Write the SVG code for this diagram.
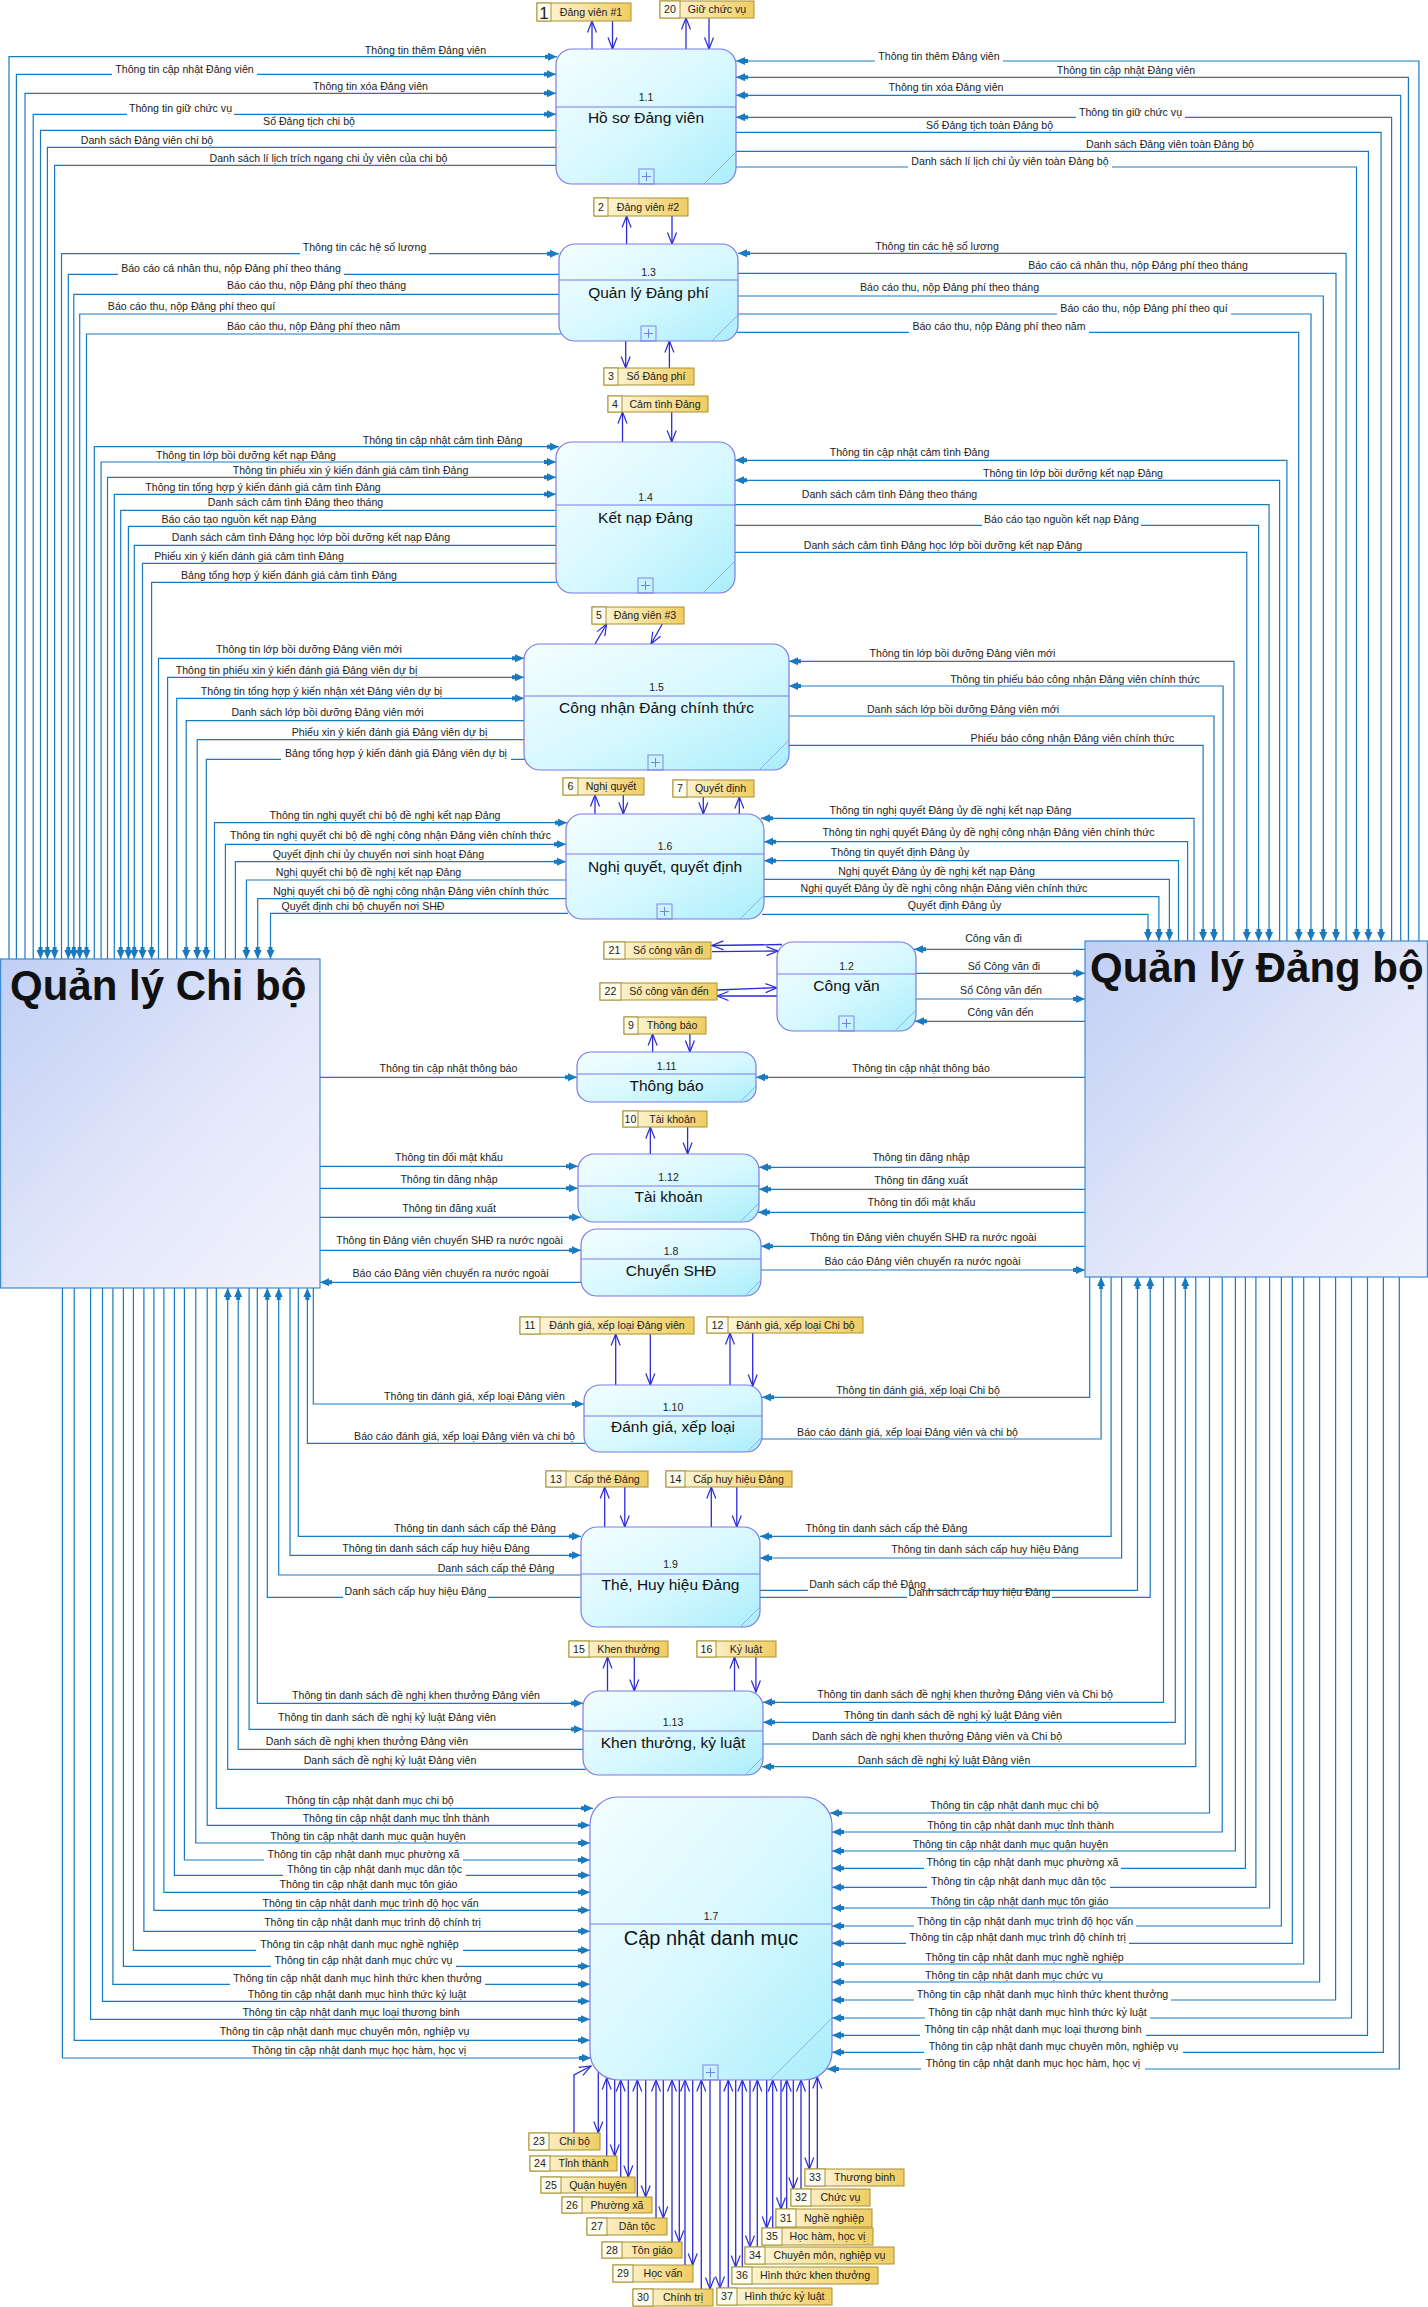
<svg xmlns="http://www.w3.org/2000/svg" width="1428" height="2307" viewBox="0 0 1428 2307">
<defs>
<linearGradient id="gp" x1="0" y1="0" x2="1" y2="1"><stop offset="0" stop-color="#f4feff"/><stop offset="0.55" stop-color="#d6f8ff"/><stop offset="1" stop-color="#aaeefb"/></linearGradient>
<linearGradient id="ge" x1="0" y1="0" x2="1" y2="1"><stop offset="0" stop-color="#c0cff4"/><stop offset="0.55" stop-color="#e2e7fa"/><stop offset="1" stop-color="#f3f3fd"/></linearGradient>
<linearGradient id="gs" x1="0" y1="0" x2="1" y2="0"><stop offset="0" stop-color="#fff9e2"/><stop offset="1" stop-color="#f0cd62"/></linearGradient>
<marker id="ae" markerUnits="userSpaceOnUse" markerWidth="14" markerHeight="10" refX="12" refY="5" orient="auto" overflow="visible"><path d="M0,3H3V1L12,5L3,9V7H0Z" fill="#1a7ac0"/></marker>
<marker id="ad" markerUnits="userSpaceOnUse" markerWidth="14" markerHeight="12" refX="12" refY="5" orient="auto" overflow="visible"><path d="M0.5,0.5L12,5L0.5,9.5" fill="none" stroke="#2b2bd6" stroke-width="1.2"/></marker>
<style>
.c{fill:none;stroke:#1a7ac0;stroke-width:1.2;marker-end:url(#ae)}
.d{fill:none;stroke:#2b2bd6;stroke-width:1.3;marker-end:url(#ad)}
.t{font-family:"Liberation Sans",Arial,sans-serif;font-size:10.6px;fill:#222;text-anchor:middle}
.lb{fill:#fff}
.pr{fill:url(#gp);stroke:#7b7be6;stroke-width:1.2}
.pl{fill:none;stroke:#7b7be6;stroke-width:1}
.pg{fill:none;stroke:#8c9ce8;stroke-width:0.8}
.pb{fill:none;stroke:#7b7be6;stroke-width:0.9}
.pn{font-family:"Liberation Sans",Arial,sans-serif;font-size:10.5px;fill:#222;text-anchor:middle}
.pt{font-family:"Liberation Sans",Arial,sans-serif;font-size:15.5px;fill:#111;text-anchor:middle}
.sb{fill:url(#gs);stroke:#a89232;stroke-width:1}
.sn{fill:#fffdf0;stroke:#a89232;stroke-width:1}
.sl{font-family:"Liberation Sans",Arial,sans-serif;font-size:10.6px;fill:#222;text-anchor:middle}
.en{fill:url(#ge);stroke:#3d8ad6;stroke-width:1.2}
.et{font-family:"Liberation Sans",Arial,sans-serif;font-size:42px;font-weight:bold;fill:#111}
</style>
</defs>
<rect width="1428" height="2307" fill="#fff"/>
<g id="connectors">
<path class="c" d="M9,959V56.7H557"/>
<path class="c" d="M16.4,959V74.3H556"/>
<path class="c" d="M25,959V93.3H556"/>
<path class="c" d="M33.2,959V114.3H556"/>
<path class="c" d="M556,130.3H40.5V959"/>
<path class="c" d="M556,147.3H47.4V959"/>
<path class="c" d="M556,165.3H54.6V959"/>
<path class="c" d="M61.5,959V253.7H559"/>
<path class="c" d="M559,274.3H68.3V959"/>
<path class="c" d="M559,294.3H73.8V959"/>
<path class="c" d="M559,314H79.7V959"/>
<path class="c" d="M561,334H86.5V959"/>
<path class="c" d="M94.3,959V446.7H559"/>
<path class="c" d="M101.1,959V462H556"/>
<path class="c" d="M107.5,959V477.3H556"/>
<path class="c" d="M114.3,959V494.3H556"/>
<path class="c" d="M556,510.3H120.7V959"/>
<path class="c" d="M556,526.3H128.4V959"/>
<path class="c" d="M556,545.3H134.3V959"/>
<path class="c" d="M556,563.3H142.5V959"/>
<path class="c" d="M557,582.3H151.6V959"/>
<path class="c" d="M158.5,959V658.3H524"/>
<path class="c" d="M167.6,959V677.3H524"/>
<path class="c" d="M176.7,959V698.3H524"/>
<path class="c" d="M524,720.7H186.2V959"/>
<path class="c" d="M524,739.7H197.2V959"/>
<path class="c" d="M525,759.3H206.3V959"/>
<path class="c" d="M214.5,959V822.7H567"/>
<path class="c" d="M225.4,959V844.3H566"/>
<path class="c" d="M235.4,959V861.7H566"/>
<path class="c" d="M566,880H246.4V959"/>
<path class="c" d="M566,898.7H257.7V959"/>
<path class="c" d="M568,913.3H270.5V959"/>
<path class="c" d="M1418.9,941V61H736"/>
<path class="c" d="M1408.4,941V77.3H736"/>
<path class="c" d="M1400.7,941V95.3H736"/>
<path class="c" d="M1391.6,941V117.3H736"/>
<path class="c" d="M736,132.3H1381.1V941"/>
<path class="c" d="M736,151.3H1368.4V941"/>
<path class="c" d="M735,167H1356.5V941"/>
<path class="c" d="M1346.1,941V253.3H738"/>
<path class="c" d="M738,273.3H1336V941"/>
<path class="c" d="M738,296H1323.3V941"/>
<path class="c" d="M738,314H1311V941"/>
<path class="c" d="M737,332.3H1298.7V941"/>
<path class="c" d="M1286.9,941V460.3H735"/>
<path class="c" d="M1279.6,941V480.3H735"/>
<path class="c" d="M735,504.7H1269.1V941"/>
<path class="c" d="M735,525.3H1258.6V941"/>
<path class="c" d="M735,552.3H1246.8V941"/>
<path class="c" d="M1234,941V661.3H789"/>
<path class="c" d="M1223.1,941V686H789"/>
<path class="c" d="M789,716H1214V941"/>
<path class="c" d="M789,745.3H1203.1V941"/>
<path class="c" d="M1194,941V818.3H761"/>
<path class="c" d="M1187.6,941V841.7H764"/>
<path class="c" d="M1178.5,941V860.7H764"/>
<path class="c" d="M764,879.3H1169.4V941"/>
<path class="c" d="M764,896.7H1158.9V941"/>
<path class="c" d="M762,914.3H1148V941"/>
<path class="c" d="M320,1077.3H577"/>
<path class="c" d="M320,1166.3H578"/>
<path class="c" d="M320,1188.3H578"/>
<path class="c" d="M320,1217.3H581"/>
<path class="c" d="M320,1250.3H581"/>
<path class="c" d="M582,1282.3H320"/>
<path class="c" d="M313.3,1288V1404H584"/>
<path class="c" d="M585,1443.3H307.4V1288"/>
<path class="c" d="M298.3,1288V1536.3H581"/>
<path class="c" d="M290,1288V1555.3H581"/>
<path class="c" d="M581,1575H278.7V1288"/>
<path class="c" d="M581,1597.3H267.3V1288"/>
<path class="c" d="M257.3,1288V1703.3H583"/>
<path class="c" d="M249.1,1288V1729.3H583"/>
<path class="c" d="M583,1749.3H238.2V1288"/>
<path class="c" d="M586,1769.3H227.7V1288"/>
<path class="c" d="M216.3,1288V1808.3H593"/>
<path class="c" d="M207.2,1288V1825.3H590"/>
<path class="c" d="M195.8,1288V1843H590"/>
<path class="c" d="M184.4,1288V1860H590"/>
<path class="c" d="M174.4,1288V1875.3H590"/>
<path class="c" d="M163.9,1288V1892.3H590"/>
<path class="c" d="M153.9,1288V1910.3H590"/>
<path class="c" d="M143.9,1288V1931.3H590"/>
<path class="c" d="M133.4,1288V1950.3H590"/>
<path class="c" d="M123.4,1288V1966.3H590"/>
<path class="c" d="M112.9,1288V1984.3H590"/>
<path class="c" d="M102.5,1288V2001.3H590"/>
<path class="c" d="M90.6,1288V2019.3H590"/>
<path class="c" d="M74.2,1288V2040.3H590"/>
<path class="c" d="M62.4,1288V2058H591"/>
<path class="c" d="M1085,949.3H914"/>
<path class="c" d="M916,973.3H1085"/>
<path class="c" d="M916,999H1085"/>
<path class="c" d="M1085,1021.3H915"/>
<path class="c" d="M1085,1077.3H756"/>
<path class="c" d="M1085,1167.3H759"/>
<path class="c" d="M1085,1189.3H759"/>
<path class="c" d="M1085,1212.3H758"/>
<path class="c" d="M1085,1246.3H761"/>
<path class="c" d="M761,1270H1085"/>
<path class="c" d="M1089.7,1277V1397.3H762"/>
<path class="c" d="M762,1439H1101.1V1277"/>
<path class="c" d="M1111.1,1277V1536.3H760"/>
<path class="c" d="M1121.6,1277V1558H760"/>
<path class="c" d="M760,1590.3H1137.5V1277"/>
<path class="c" d="M760,1597.3H1150.2V1277"/>
<path class="c" d="M1163.5,1277V1702.3H763"/>
<path class="c" d="M1175.3,1277V1722.3H763"/>
<path class="c" d="M763,1744H1185.3V1277"/>
<path class="c" d="M1195.8,1277V1766.7H762"/>
<path class="c" d="M1209.5,1277V1813H830"/>
<path class="c" d="M1222.2,1277V1832H832"/>
<path class="c" d="M1235.4,1277V1851H832"/>
<path class="c" d="M1245.4,1277V1868.3H832"/>
<path class="c" d="M1255.9,1277V1887.3H832"/>
<path class="c" d="M1269.6,1277V1908H832"/>
<path class="c" d="M1281.4,1277V1926H832"/>
<path class="c" d="M1292.3,1277V1943.3H832"/>
<path class="c" d="M1303.7,1277V1964H832"/>
<path class="c" d="M1319.6,1277V1982H832"/>
<path class="c" d="M1335.6,1277V2000H832"/>
<path class="c" d="M1351.5,1277V2018H832"/>
<path class="c" d="M1367.5,1277V2035.3H832"/>
<path class="c" d="M1383.4,1277V2052.3H832"/>
<path class="c" d="M1399.3,1277V2069H827"/>
<path class="d" d="M592,49V21"/><path class="d" d="M612.5,21V49"/>
<path class="d" d="M686,49V18"/><path class="d" d="M709,18V49"/>
<path class="d" d="M626.6,244V216"/><path class="d" d="M672,216V244"/>
<path class="d" d="M625.7,341V368"/><path class="d" d="M669.4,368V341"/>
<path class="d" d="M622.5,442V412"/><path class="d" d="M671.7,412V442"/>
<path class="d" d="M595,644L606.7,624"/><path class="d" d="M662.3,624L651,644"/>
<path class="d" d="M595,814V795"/><path class="d" d="M623.3,795V814"/>
<path class="d" d="M703.3,797V814"/><path class="d" d="M739.3,814V797"/>
<path class="d" d="M782,944.5L712,945.5"/><path class="d" d="M712,951.7L778,951"/>
<path class="d" d="M717,990L777,987.7"/><path class="d" d="M777,996H717"/>
<path class="d" d="M652.6,1052V1034"/><path class="d" d="M689.9,1034V1052"/>
<path class="d" d="M650.3,1154V1127"/><path class="d" d="M687.6,1127V1154"/>
<path class="d" d="M615.7,1385V1334"/><path class="d" d="M650.3,1334V1385"/>
<path class="d" d="M730,1385V1333"/><path class="d" d="M752.7,1333V1386"/>
<path class="d" d="M604.7,1527V1487"/><path class="d" d="M624.8,1487V1527"/>
<path class="d" d="M711.3,1527V1487"/><path class="d" d="M736.8,1487V1527"/>
<path class="d" d="M607.5,1691V1657"/><path class="d" d="M634.3,1657V1691"/>
<path class="d" d="M734.5,1691V1657"/><path class="d" d="M755.9,1657V1692"/>
<path class="d" d="M574,2133V2075L591,2066"/><path class="d" d="M598.3,2072V2133"/>
<path class="d" d="M606.7,2156V2078"/><path class="d" d="M614.7,2080V2156"/>
<path class="d" d="M620.7,2177V2080"/><path class="d" d="M628.3,2080V2177"/>
<path class="d" d="M637.3,2197V2080"/><path class="d" d="M645.7,2080V2197"/>
<path class="d" d="M656,2218V2080"/><path class="d" d="M663.3,2080V2218"/>
<path class="d" d="M672,2242V2080"/><path class="d" d="M679.3,2080V2242"/>
<path class="d" d="M685,2265V2080"/><path class="d" d="M692.7,2080V2265"/>
<path class="d" d="M701.3,2289V2080"/><path class="d" d="M710,2080V2289"/>
<path class="d" d="M720,2080V2288"/><path class="d" d="M728.3,2288V2080"/>
<path class="d" d="M735.7,2080V2267"/><path class="d" d="M742.3,2267V2080"/>
<path class="d" d="M750,2080V2247"/><path class="d" d="M757.3,2247V2080"/>
<path class="d" d="M766.7,2080V2228"/><path class="d" d="M772.7,2228V2080"/>
<path class="d" d="M781,2080V2209"/><path class="d" d="M786.7,2209V2080"/>
<path class="d" d="M793.3,2080V2189"/><path class="d" d="M801,2189V2080"/>
<path class="d" d="M809.3,2079V2169"/><path class="d" d="M817.3,2169V2077"/>
</g>
<g id="connector-labels">
<rect class="lb" x="112" y="63.2" width="145" height="13.5"/>
<rect class="lb" x="127" y="102.2" width="107" height="13.5"/>
<rect class="lb" x="300" y="241.2" width="129" height="13.5"/>
<rect class="lb" x="118" y="262.2" width="226" height="13.5"/>
<rect class="lb" x="281" y="747.2" width="230" height="13.5"/>
<rect class="lb" x="343" y="1585.2" width="145" height="13.5"/>
<rect class="lb" x="264" y="1848.2" width="199" height="13.5"/>
<rect class="lb" x="283" y="1862.8" width="183" height="13.5"/>
<rect class="lb" x="256" y="1938.2" width="207" height="13.5"/>
<rect class="lb" x="271" y="1954.2" width="185" height="13.5"/>
<rect class="lb" x="230" y="1972.2" width="255" height="13.5"/>
<rect class="lb" x="875" y="50.2" width="128" height="13.5"/>
<rect class="lb" x="1076" y="105.5" width="109" height="13.5"/>
<rect class="lb" x="908" y="155.2" width="204" height="13.5"/>
<rect class="lb" x="1057" y="301.8" width="174" height="13.5"/>
<rect class="lb" x="909" y="320.2" width="180" height="13.5"/>
<rect class="lb" x="982" y="513.2" width="159" height="13.5"/>
<rect class="lb" x="808" y="1577.8" width="119" height="13.5"/>
<rect class="lb" x="907" y="1591" width="145" height="8"/>
<rect class="lb" x="924" y="1856.2" width="197" height="13.5"/>
<rect class="lb" x="927" y="1875.2" width="183" height="13.5"/>
<rect class="lb" x="914" y="1914.8" width="222" height="13.5"/>
<rect class="lb" x="906" y="1931.2" width="223" height="13.5"/>
<rect class="lb" x="914" y="1987.8" width="257" height="13.5"/>
<rect class="lb" x="925" y="2005.8" width="225" height="13.5"/>
<rect class="lb" x="920" y="2023.2" width="226" height="13.5"/>
<rect class="lb" x="924" y="2040.2" width="259" height="13.5"/>
<rect class="lb" x="921" y="2056.8" width="224" height="13.5"/>
<text class="t" x="425.5" y="53.7">Thông tin thêm Đảng viên</text>
<text class="t" x="184.5" y="73.4">Thông tin cập nhật Đảng viên</text>
<text class="t" x="370.5" y="90.4">Thông tin xóa Đảng viên</text>
<text class="t" x="180.5" y="112.4">Thông tin giữ chức vụ</text>
<text class="t" x="309" y="125.4">Sổ Đảng tịch chi bộ</text>
<text class="t" x="147" y="144.4">Danh sách Đảng viên chi bộ</text>
<text class="t" x="328.5" y="162.4">Danh sách lí lịch trích ngang chi ủy viên của chi bộ</text>
<text class="t" x="364.5" y="251.4">Thông tin các hệ số lương</text>
<text class="t" x="231" y="272.4">Báo cáo cá nhân thu, nộp Đảng phí theo tháng</text>
<text class="t" x="316.5" y="289.4">Báo cáo thu, nộp Đảng phí theo tháng</text>
<text class="t" x="191.5" y="310.4">Báo cáo thu, nộp Đảng phí theo quí</text>
<text class="t" x="313.5" y="330.4">Báo cáo thu, nộp Đảng phí theo năm</text>
<text class="t" x="442.5" y="443.7">Thông tin cập nhật cảm tình Đảng</text>
<text class="t" x="246" y="459.4">Thông tin lớp bồi dưỡng kết nạp Đảng</text>
<text class="t" x="350.5" y="473.7">Thông tin phiếu xin ý kiến đánh giá cảm tình Đảng</text>
<text class="t" x="263" y="491.4">Thông tin tổng hợp ý kiến đánh giá cảm tình Đảng</text>
<text class="t" x="295.5" y="506.4">Danh sách cảm tình Đảng theo tháng</text>
<text class="t" x="239" y="523">Báo cáo tạo nguồn kết nạp Đảng</text>
<text class="t" x="311" y="541.4">Danh sách cảm tình Đảng học lớp bồi dưỡng kết nạp Đảng</text>
<text class="t" x="249" y="560.4">Phiếu xin ý kiến đánh giá cảm tình Đảng</text>
<text class="t" x="289" y="579.4">Bảng tổng hợp ý kiến đánh giá cảm tình Đảng</text>
<text class="t" x="309" y="653.4">Thông tin lớp bồi dưỡng Đảng viên mới</text>
<text class="t" x="296.5" y="674.4">Thông tin phiếu xin ý kiến đánh giá Đảng viên dự bị</text>
<text class="t" x="321.5" y="695.4">Thông tin tổng hợp ý kiến nhận xét Đảng viên dự bị</text>
<text class="t" x="327.5" y="716.4">Danh sách lớp bồi dưỡng Đảng viên mới</text>
<text class="t" x="389.5" y="736.4">Phiếu xin ý kiến đánh giá Đảng viên dự bị</text>
<text class="t" x="396" y="757.4">Bảng tổng hợp ý kiến đánh giá Đảng viên dự bị</text>
<text class="t" x="385" y="819.4">Thông tin nghị quyết chi bộ đề nghị kết nạp Đảng</text>
<text class="t" x="390.5" y="839.4">Thông tin nghị quyết chi bộ đề nghị công nhận Đảng viên chính thức</text>
<text class="t" x="378.5" y="858.4">Quyết định chi ủy chuyển nơi sinh hoạt Đảng</text>
<text class="t" x="368.5" y="876.4">Nghị quyết chi bộ đề nghị kết nạp Đảng</text>
<text class="t" x="411" y="895.4">Nghị quyết chi bộ đề nghị công nhận Đảng viên chính thức</text>
<text class="t" x="363" y="910.4">Quyết định chi bộ chuyển nơi SHĐ</text>
<text class="t" x="448.5" y="1072.4">Thông tin cập nhật thông báo</text>
<text class="t" x="449" y="1161.4">Thông tin đổi mật khẩu</text>
<text class="t" x="449" y="1183">Thông tin đăng nhập</text>
<text class="t" x="449" y="1212">Thông tin đăng xuất</text>
<text class="t" x="449.5" y="1244">Thông tin Đảng viên chuyển SHĐ ra nước ngoài</text>
<text class="t" x="450.5" y="1277">Báo cáo Đảng viên chuyển ra nước ngoài</text>
<text class="t" x="474.5" y="1400.4">Thông tin đánh giá, xếp loại Đảng viên</text>
<text class="t" x="464.5" y="1440.4">Báo cáo đánh giá, xếp loại Đảng viên và chi bộ</text>
<text class="t" x="475" y="1532.4">Thông tin danh sách cấp thẻ Đảng</text>
<text class="t" x="436" y="1552.4">Thông tin danh sách cấp huy hiệu Đảng</text>
<text class="t" x="496" y="1572.4">Danh sách cấp thẻ Đảng</text>
<text class="t" x="415.5" y="1595.4">Danh sách cấp huy hiệu Đảng</text>
<text class="t" x="416" y="1699.4">Thông tin danh sách đề nghị khen thưởng Đảng viên</text>
<text class="t" x="387" y="1721.4">Thông tin danh sách đề nghị kỷ luật Đảng viên</text>
<text class="t" x="367" y="1745.4">Danh sách đề nghị khen thưởng Đảng viên</text>
<text class="t" x="390" y="1764.4">Danh sách đề nghị kỷ luật Đảng viên</text>
<text class="t" x="369.5" y="1804.4">Thông tin cập nhật danh mục chi bộ</text>
<text class="t" x="396" y="1822.4">Thông tin cập nhật danh mục tỉnh thành</text>
<text class="t" x="368" y="1840.4">Thông tin cập nhật danh mục quận huyện</text>
<text class="t" x="363.5" y="1858.4">Thông tin cập nhật danh mục phường xã</text>
<text class="t" x="374.5" y="1873">Thông tin cập nhật danh mục dân tộc</text>
<text class="t" x="368.5" y="1888.4">Thông tin cập nhật danh mục tôn giáo</text>
<text class="t" x="370.5" y="1907.4">Thông tin cập nhật danh mục trình độ học vấn</text>
<text class="t" x="372.5" y="1926.4">Thông tin cập nhật danh mục trình độ chính trị</text>
<text class="t" x="359.5" y="1948.4">Thông tin cập nhật danh mục nghề nghiệp</text>
<text class="t" x="363.5" y="1964.4">Thông tin cập nhật danh mục chức vụ</text>
<text class="t" x="357.5" y="1982.4">Thông tin cập nhật danh mục hình thức khen thưởng</text>
<text class="t" x="357" y="1998.4">Thông tin cập nhật danh mục hình thức kỷ luật</text>
<text class="t" x="351" y="2016.4">Thông tin cập nhật danh mục loại thương binh</text>
<text class="t" x="344.5" y="2035.4">Thông tin cập nhật danh mục chuyên môn, nghiệp vụ</text>
<text class="t" x="359" y="2054">Thông tin cập nhật danh mục học hàm, học vị</text>
<text class="t" x="939" y="60.4">Thông tin thêm Đảng viên</text>
<text class="t" x="1126" y="74.4">Thông tin cập nhật Đảng viên</text>
<text class="t" x="946" y="91.4">Thông tin xóa Đảng viên</text>
<text class="t" x="1130.5" y="115.7">Thông tin giữ chức vụ</text>
<text class="t" x="989.5" y="129.4">Sổ Đảng tịch toàn Đảng bộ</text>
<text class="t" x="1170" y="148.4">Danh sách Đảng viên toàn Đảng bộ</text>
<text class="t" x="1010" y="165.4">Danh sách lí lịch chi ủy viên toàn Đảng bộ</text>
<text class="t" x="937" y="250.4">Thông tin các hệ số lương</text>
<text class="t" x="1138" y="269.4">Báo cáo cá nhân thu, nộp Đảng phí theo tháng</text>
<text class="t" x="949.5" y="291">Báo cáo thu, nộp Đảng phí theo tháng</text>
<text class="t" x="1144" y="312">Báo cáo thu, nộp Đảng phí theo quí</text>
<text class="t" x="999" y="330.4">Báo cáo thu, nộp Đảng phí theo năm</text>
<text class="t" x="909.5" y="456.4">Thông tin cập nhật cảm tình Đảng</text>
<text class="t" x="1073" y="477.4">Thông tin lớp bồi dưỡng kết nạp Đảng</text>
<text class="t" x="889.5" y="498.4">Danh sách cảm tình Đảng theo tháng</text>
<text class="t" x="1061.5" y="523.4">Báo cáo tạo nguồn kết nạp Đảng</text>
<text class="t" x="943" y="549.4">Danh sách cảm tình Đảng học lớp bồi dưỡng kết nạp Đảng</text>
<text class="t" x="962.5" y="657.4">Thông tin lớp bồi dưỡng Đảng viên mới</text>
<text class="t" x="1075" y="683">Thông tin phiếu báo công nhận Đảng viên chính thức</text>
<text class="t" x="963" y="713.4">Danh sách lớp bồi dưỡng Đảng viên mới</text>
<text class="t" x="1072.5" y="742">Phiếu báo công nhận Đảng viên chính thức</text>
<text class="t" x="950.5" y="814.4">Thông tin nghị quyết Đảng ủy đề nghị kết nạp Đảng</text>
<text class="t" x="988.5" y="836.4">Thông tin nghị quyết Đảng ủy đề nghị công nhận Đảng viên chính thức</text>
<text class="t" x="900" y="856.4">Thông tin quyết định Đảng ủy</text>
<text class="t" x="936.5" y="875.4">Nghị quyết Đảng ủy đề nghị kết nạp Đảng</text>
<text class="t" x="944" y="892.4">Nghị quyết Đảng ủy đề nghị công nhận Đảng viên chính thức</text>
<text class="t" x="954.5" y="909.4">Quyết định Đảng ủy</text>
<text class="t" x="993.5" y="942">Công văn đi</text>
<text class="t" x="1004" y="970">Sổ Công văn đi</text>
<text class="t" x="1001" y="994">Sổ Công văn đến</text>
<text class="t" x="1000.5" y="1016.4">Công văn đến</text>
<text class="t" x="921" y="1072.4">Thông tin cập nhật thông báo</text>
<text class="t" x="921" y="1161.4">Thông tin đăng nhập</text>
<text class="t" x="921" y="1184">Thông tin đăng xuất</text>
<text class="t" x="921.5" y="1206">Thông tin đổi mật khẩu</text>
<text class="t" x="923" y="1241.4">Thông tin Đảng viên chuyển SHĐ ra nước ngoài</text>
<text class="t" x="922.5" y="1265.4">Báo cáo Đảng viên chuyển ra nước ngoài</text>
<text class="t" x="918" y="1393.7">Thông tin đánh giá, xếp loại Chi bộ</text>
<text class="t" x="907.5" y="1436.4">Báo cáo đánh giá, xếp loại Đảng viên và chi bộ</text>
<text class="t" x="886.5" y="1532.4">Thông tin danh sách cấp thẻ Đảng</text>
<text class="t" x="985" y="1553.4">Thông tin danh sách cấp huy hiệu Đảng</text>
<text class="t" x="867.5" y="1588">Danh sách cấp thẻ Đảng</text>
<text class="t" x="979.5" y="1595.7">Danh sách cấp huy hiệu Đảng</text>
<text class="t" x="965" y="1698.4">Thông tin danh sách đề nghị khen thưởng Đảng viên và Chi bộ</text>
<text class="t" x="953" y="1719.4">Thông tin danh sách đề nghị kỷ luật Đảng viên</text>
<text class="t" x="937" y="1740.4">Danh sách đề nghị khen thưởng Đảng viên và Chi bộ</text>
<text class="t" x="944" y="1764.4">Danh sách đề nghị kỷ luật Đảng viên</text>
<text class="t" x="1014.5" y="1809">Thông tin cập nhật danh mục chi bộ</text>
<text class="t" x="1020.5" y="1829">Thông tin cập nhật danh mục tỉnh thành</text>
<text class="t" x="1010.5" y="1848.4">Thông tin cập nhật danh mục quận huyện</text>
<text class="t" x="1022.5" y="1866.4">Thông tin cập nhật danh mục phường xã</text>
<text class="t" x="1018.5" y="1885.4">Thông tin cập nhật danh mục dân tộc</text>
<text class="t" x="1019.5" y="1905">Thông tin cập nhật danh mục tôn giáo</text>
<text class="t" x="1025" y="1925">Thông tin cập nhật danh mục trình độ học vấn</text>
<text class="t" x="1017.5" y="1941.4">Thông tin cập nhật danh mục trình độ chính trị</text>
<text class="t" x="1024.5" y="1961">Thông tin cập nhật danh mục nghề nghiệp</text>
<text class="t" x="1014" y="1979.4">Thông tin cập nhật danh mục chức vụ</text>
<text class="t" x="1042.5" y="1998">Thông tin cập nhật danh mục hình thức khent thưởng</text>
<text class="t" x="1037.5" y="2016">Thông tin cập nhật danh mục hình thức kỷ luật</text>
<text class="t" x="1033" y="2033.4">Thông tin cập nhật danh mục loại thương binh</text>
<text class="t" x="1053.5" y="2050.4">Thông tin cập nhật danh mục chuyên môn, nghiệp vụ</text>
<text class="t" x="1033" y="2067">Thông tin cập nhật danh mục học hàm, học vị</text>
</g>
<g id="e_chibo"><rect class="en" x="0.6" y="959" width="319.4" height="329"/><text class="et" x="10" y="1000">Quản lý Chi bộ</text></g>
<g id="e_dangbo"><rect class="en" x="1085" y="941" width="342.4" height="336"/><text class="et" x="1090" y="982">Quản lý Đảng bộ</text></g>
<g id="p1_1"><rect class="pr" x="556" y="49" width="180" height="135" rx="16"/><path class="pl" d="M556,107H736"/><path class="pg" d="M736,152L704,184"/><rect class="pb" x="639" y="169" width="15" height="15"/><path class="pl" d="M646.5,172v9M642,176.5h9"/><text class="pn" x="646" y="100.5">1.1</text><text class="pt" x="646" y="123">Hồ sơ Đảng viên</text></g>
<g id="p1_3"><rect class="pr" x="559" y="244" width="179" height="97" rx="16"/><path class="pl" d="M559,280H738"/><path class="pg" d="M738,315L712,341"/><rect class="pb" x="641" y="326" width="15" height="15"/><path class="pl" d="M648.5,329v9M644,333.5h9"/><text class="pn" x="648.5" y="275.5">1.3</text><text class="pt" x="648.5" y="298">Quản lý Đảng phí</text></g>
<g id="p1_4"><rect class="pr" x="556" y="442" width="179" height="151" rx="16"/><path class="pl" d="M556,505H735"/><path class="pg" d="M735,561L703,593"/><rect class="pb" x="638" y="578" width="15" height="15"/><path class="pl" d="M645.5,581v9M641,585.5h9"/><text class="pn" x="645.5" y="500.5">1.4</text><text class="pt" x="645.5" y="523">Kết nạp Đảng</text></g>
<g id="p1_5"><rect class="pr" x="524" y="644" width="265" height="126" rx="16"/><path class="pl" d="M524,696H789"/><path class="pg" d="M789,740L759,770"/><rect class="pb" x="648" y="755" width="15" height="15"/><path class="pl" d="M655.5,758v9M651,762.5h9"/><text class="pn" x="656.5" y="690.5">1.5</text><text class="pt" x="656.5" y="713">Công nhận Đảng chính thức</text></g>
<g id="p1_6"><rect class="pr" x="566" y="814" width="198" height="105" rx="16"/><path class="pl" d="M566,854H764"/><path class="pg" d="M764,895L740,919"/><rect class="pb" x="657" y="904" width="15" height="15"/><path class="pl" d="M664.5,907v9M660,911.5h9"/><text class="pn" x="665" y="849.5">1.6</text><text class="pt" x="665" y="872">Nghị quyết, quyết định</text></g>
<g id="p1_2"><rect class="pr" x="777" y="942" width="139" height="89" rx="16"/><path class="pl" d="M777,974H916"/><path class="pg" d="M916,1010L895,1031"/><rect class="pb" x="839" y="1016" width="15" height="15"/><path class="pl" d="M846.5,1019v9M842,1023.5h9"/><text class="pn" x="846.5" y="969.5">1.2</text><text class="pt" x="846.5" y="991">Công văn</text></g>
<g id="p1_11"><rect class="pr" x="577" y="1052" width="179" height="50" rx="14"/><path class="pl" d="M577,1074H756"/><path class="pg" d="M756,1086L740,1102"/><text class="pn" x="666.5" y="1069.5">1.11</text><text class="pt" x="666.5" y="1091">Thông báo</text></g>
<g id="p1_12"><rect class="pr" x="578" y="1154" width="181" height="68" rx="16"/><path class="pl" d="M578,1186H759"/><path class="pg" d="M759,1203L740,1222"/><text class="pn" x="668.5" y="1180.5">1.12</text><text class="pt" x="668.5" y="1202">Tài khoản</text></g>
<g id="p1_8"><rect class="pr" x="581" y="1229" width="180" height="67" rx="16"/><path class="pl" d="M581,1259H761"/><path class="pg" d="M761,1280L745,1296"/><text class="pn" x="671" y="1254.5">1.8</text><text class="pt" x="671" y="1276">Chuyển SHĐ</text></g>
<g id="p1_10"><rect class="pr" x="584" y="1385" width="178" height="67" rx="16"/><path class="pl" d="M584,1416H762"/><path class="pg" d="M762,1437L747,1452"/><text class="pn" x="673" y="1410.5">1.10</text><text class="pt" x="673" y="1432">Đánh giá, xếp loại</text></g>
<g id="p1_9"><rect class="pr" x="581" y="1527" width="179" height="100" rx="16"/><path class="pl" d="M581,1574H760"/><path class="pg" d="M760,1607L740,1627"/><text class="pn" x="670.5" y="1567.5">1.9</text><text class="pt" x="670.5" y="1590">Thẻ, Huy hiệu Đảng</text></g>
<g id="p1_13"><rect class="pr" x="583" y="1691" width="180" height="84" rx="16"/><path class="pl" d="M583,1731H763"/><path class="pg" d="M763,1757L745,1775"/><text class="pn" x="673" y="1725.5">1.13</text><text class="pt" x="673" y="1748">Khen thưởng, kỷ luật</text></g>
<g id="p1_7"><rect class="pr" x="590" y="1797" width="242" height="283" rx="28"/><path class="pl" d="M590,1924H832"/><path class="pg" d="M832,2018L770,2080"/><rect class="pb" x="703" y="2065" width="15" height="15"/><path class="pl" d="M710.5,2068v9M706,2072.5h9"/><text class="pn" x="711" y="1919.5">1.7</text><text class="pt" x="711" y="1945" style="font-size:20px">Cập nhật danh mục</text></g>
<g id="s1"><rect class="sb" x="537" y="3" width="94" height="18"/><rect class="sn" x="537" y="3" width="14" height="18"/><text class="sl" x="544" y="18.5" style="font-size:17px">1</text><text class="sl" x="591" y="15.7">Đảng viên #1</text></g>
<g id="s20"><rect class="sb" x="660" y="1" width="94" height="17"/><rect class="sn" x="660" y="1" width="20" height="17"/><text class="sl" x="670" y="13.2">20</text><text class="sl" x="717" y="13.2">Giữ chức vụ</text></g>
<g id="s2"><rect class="sb" x="594" y="198" width="94" height="18"/><rect class="sn" x="594" y="198" width="14" height="18"/><text class="sl" x="601" y="210.7">2</text><text class="sl" x="648" y="210.7">Đảng viên #2</text></g>
<g id="s3"><rect class="sb" x="604" y="368" width="90" height="17"/><rect class="sn" x="604" y="368" width="14" height="17"/><text class="sl" x="611" y="380.2">3</text><text class="sl" x="656" y="380.2">Sổ Đảng phí</text></g>
<g id="s4"><rect class="sb" x="608" y="396" width="100" height="16"/><rect class="sn" x="608" y="396" width="14" height="16"/><text class="sl" x="615" y="407.7">4</text><text class="sl" x="665" y="407.7">Cảm tình Đảng</text></g>
<g id="s5"><rect class="sb" x="592" y="607" width="92" height="17"/><rect class="sn" x="592" y="607" width="14" height="17"/><text class="sl" x="599" y="619.2">5</text><text class="sl" x="645" y="619.2">Đảng viên #3</text></g>
<g id="s6"><rect class="sb" x="563" y="778" width="81" height="17"/><rect class="sn" x="563" y="778" width="15" height="17"/><text class="sl" x="570.5" y="790.2">6</text><text class="sl" x="611" y="790.2">Nghị quyết</text></g>
<g id="s7"><rect class="sb" x="673" y="780" width="81" height="17"/><rect class="sn" x="673" y="780" width="14" height="17"/><text class="sl" x="680" y="792.2">7</text><text class="sl" x="720.5" y="792.2">Quyết định</text></g>
<g id="s21"><rect class="sb" x="604" y="942" width="107" height="17"/><rect class="sn" x="604" y="942" width="21" height="17"/><text class="sl" x="614.5" y="954.2">21</text><text class="sl" x="668" y="954.2">Sổ công văn đi</text></g>
<g id="s22"><rect class="sb" x="600" y="983" width="117" height="17"/><rect class="sn" x="600" y="983" width="21" height="17"/><text class="sl" x="610.5" y="995.2">22</text><text class="sl" x="669" y="995.2">Sổ công văn đến</text></g>
<g id="s9"><rect class="sb" x="624" y="1017" width="82" height="17"/><rect class="sn" x="624" y="1017" width="14" height="17"/><text class="sl" x="631" y="1029.2">9</text><text class="sl" x="672" y="1029.2">Thông báo</text></g>
<g id="s10"><rect class="sb" x="623" y="1111" width="84" height="16"/><rect class="sn" x="623" y="1111" width="15" height="16"/><text class="sl" x="630.5" y="1122.7">10</text><text class="sl" x="672.5" y="1122.7">Tài khoản</text></g>
<g id="s11"><rect class="sb" x="520" y="1317" width="174" height="17"/><rect class="sn" x="520" y="1317" width="20" height="17"/><text class="sl" x="530" y="1329.2">11</text><text class="sl" x="617" y="1329.2">Đánh giá, xếp loại Đảng viên</text></g>
<g id="s12"><rect class="sb" x="707" y="1317" width="156" height="16"/><rect class="sn" x="707" y="1317" width="21" height="16"/><text class="sl" x="717.5" y="1328.7">12</text><text class="sl" x="795.5" y="1328.7">Đánh giá, xếp loại Chi bộ</text></g>
<g id="s13"><rect class="sb" x="546" y="1471" width="102" height="16"/><rect class="sn" x="546" y="1471" width="20" height="16"/><text class="sl" x="556" y="1482.7">13</text><text class="sl" x="607" y="1482.7">Cấp thẻ Đảng</text></g>
<g id="s14"><rect class="sb" x="666" y="1471" width="126" height="16"/><rect class="sn" x="666" y="1471" width="19" height="16"/><text class="sl" x="675.5" y="1482.7">14</text><text class="sl" x="738.5" y="1482.7">Cấp huy hiệu Đảng</text></g>
<g id="s15"><rect class="sb" x="569" y="1641" width="99" height="16"/><rect class="sn" x="569" y="1641" width="20" height="16"/><text class="sl" x="579" y="1652.7">15</text><text class="sl" x="628.5" y="1652.7">Khen thưởng</text></g>
<g id="s16"><rect class="sb" x="697" y="1641" width="79" height="16"/><rect class="sn" x="697" y="1641" width="19" height="16"/><text class="sl" x="706.5" y="1652.7">16</text><text class="sl" x="746" y="1652.7">Kỷ luật</text></g>
<g id="s23"><rect class="sb" x="529" y="2133" width="71" height="17"/><rect class="sn" x="529" y="2133" width="20" height="17"/><text class="sl" x="539" y="2145.2">23</text><text class="sl" x="574.5" y="2145.2">Chi bộ</text></g>
<g id="s24"><rect class="sb" x="530" y="2156" width="87" height="15"/><rect class="sn" x="530" y="2156" width="20" height="15"/><text class="sl" x="540" y="2167.2">24</text><text class="sl" x="583.5" y="2167.2">Tỉnh thành</text></g>
<g id="s25"><rect class="sb" x="541" y="2177" width="94" height="16"/><rect class="sn" x="541" y="2177" width="20" height="16"/><text class="sl" x="551" y="2188.7">25</text><text class="sl" x="598" y="2188.7">Quận huyện</text></g>
<g id="s26"><rect class="sb" x="562" y="2197" width="90" height="16"/><rect class="sn" x="562" y="2197" width="20" height="16"/><text class="sl" x="572" y="2208.7">26</text><text class="sl" x="617" y="2208.7">Phường xã</text></g>
<g id="s27"><rect class="sb" x="587" y="2218" width="80" height="17"/><rect class="sn" x="587" y="2218" width="20" height="17"/><text class="sl" x="597" y="2230.2">27</text><text class="sl" x="637" y="2230.2">Dân tộc</text></g>
<g id="s28"><rect class="sb" x="602" y="2242" width="80" height="16"/><rect class="sn" x="602" y="2242" width="20" height="16"/><text class="sl" x="612" y="2253.7">28</text><text class="sl" x="652" y="2253.7">Tôn giáo</text></g>
<g id="s29"><rect class="sb" x="613" y="2265" width="80" height="17"/><rect class="sn" x="613" y="2265" width="20" height="17"/><text class="sl" x="623" y="2277.2">29</text><text class="sl" x="663" y="2277.2">Học vấn</text></g>
<g id="s30"><rect class="sb" x="633" y="2289" width="80" height="17"/><rect class="sn" x="633" y="2289" width="20" height="17"/><text class="sl" x="643" y="2301.2">30</text><text class="sl" x="683" y="2301.2">Chính trị</text></g>
<g id="s37"><rect class="sb" x="717" y="2288" width="115" height="17"/><rect class="sn" x="717" y="2288" width="20" height="17"/><text class="sl" x="727" y="2300.2">37</text><text class="sl" x="784.5" y="2300.2">Hình thức kỷ luật</text></g>
<g id="s36"><rect class="sb" x="732" y="2267" width="146" height="17"/><rect class="sn" x="732" y="2267" width="20" height="17"/><text class="sl" x="742" y="2279.2">36</text><text class="sl" x="815" y="2279.2">Hình thức khen thưởng</text></g>
<g id="s34"><rect class="sb" x="745" y="2247" width="149" height="17"/><rect class="sn" x="745" y="2247" width="20" height="17"/><text class="sl" x="755" y="2259.2">34</text><text class="sl" x="829.5" y="2259.2">Chuyên môn, nghiệp vụ</text></g>
<g id="s35"><rect class="sb" x="762" y="2228" width="111" height="17"/><rect class="sn" x="762" y="2228" width="20" height="17"/><text class="sl" x="772" y="2240.2">35</text><text class="sl" x="827.5" y="2240.2">Học hàm, học vị</text></g>
<g id="s31"><rect class="sb" x="776" y="2209" width="96" height="18"/><rect class="sn" x="776" y="2209" width="20" height="18"/><text class="sl" x="786" y="2221.7">31</text><text class="sl" x="834" y="2221.7">Nghề nghiệp</text></g>
<g id="s32"><rect class="sb" x="791" y="2189" width="79" height="17"/><rect class="sn" x="791" y="2189" width="20" height="17"/><text class="sl" x="801" y="2201.2">32</text><text class="sl" x="840.5" y="2201.2">Chức vụ</text></g>
<g id="s33"><rect class="sb" x="805" y="2169" width="99" height="17"/><rect class="sn" x="805" y="2169" width="20" height="17"/><text class="sl" x="815" y="2181.2">33</text><text class="sl" x="864.5" y="2181.2">Thương binh</text></g>
</svg>
